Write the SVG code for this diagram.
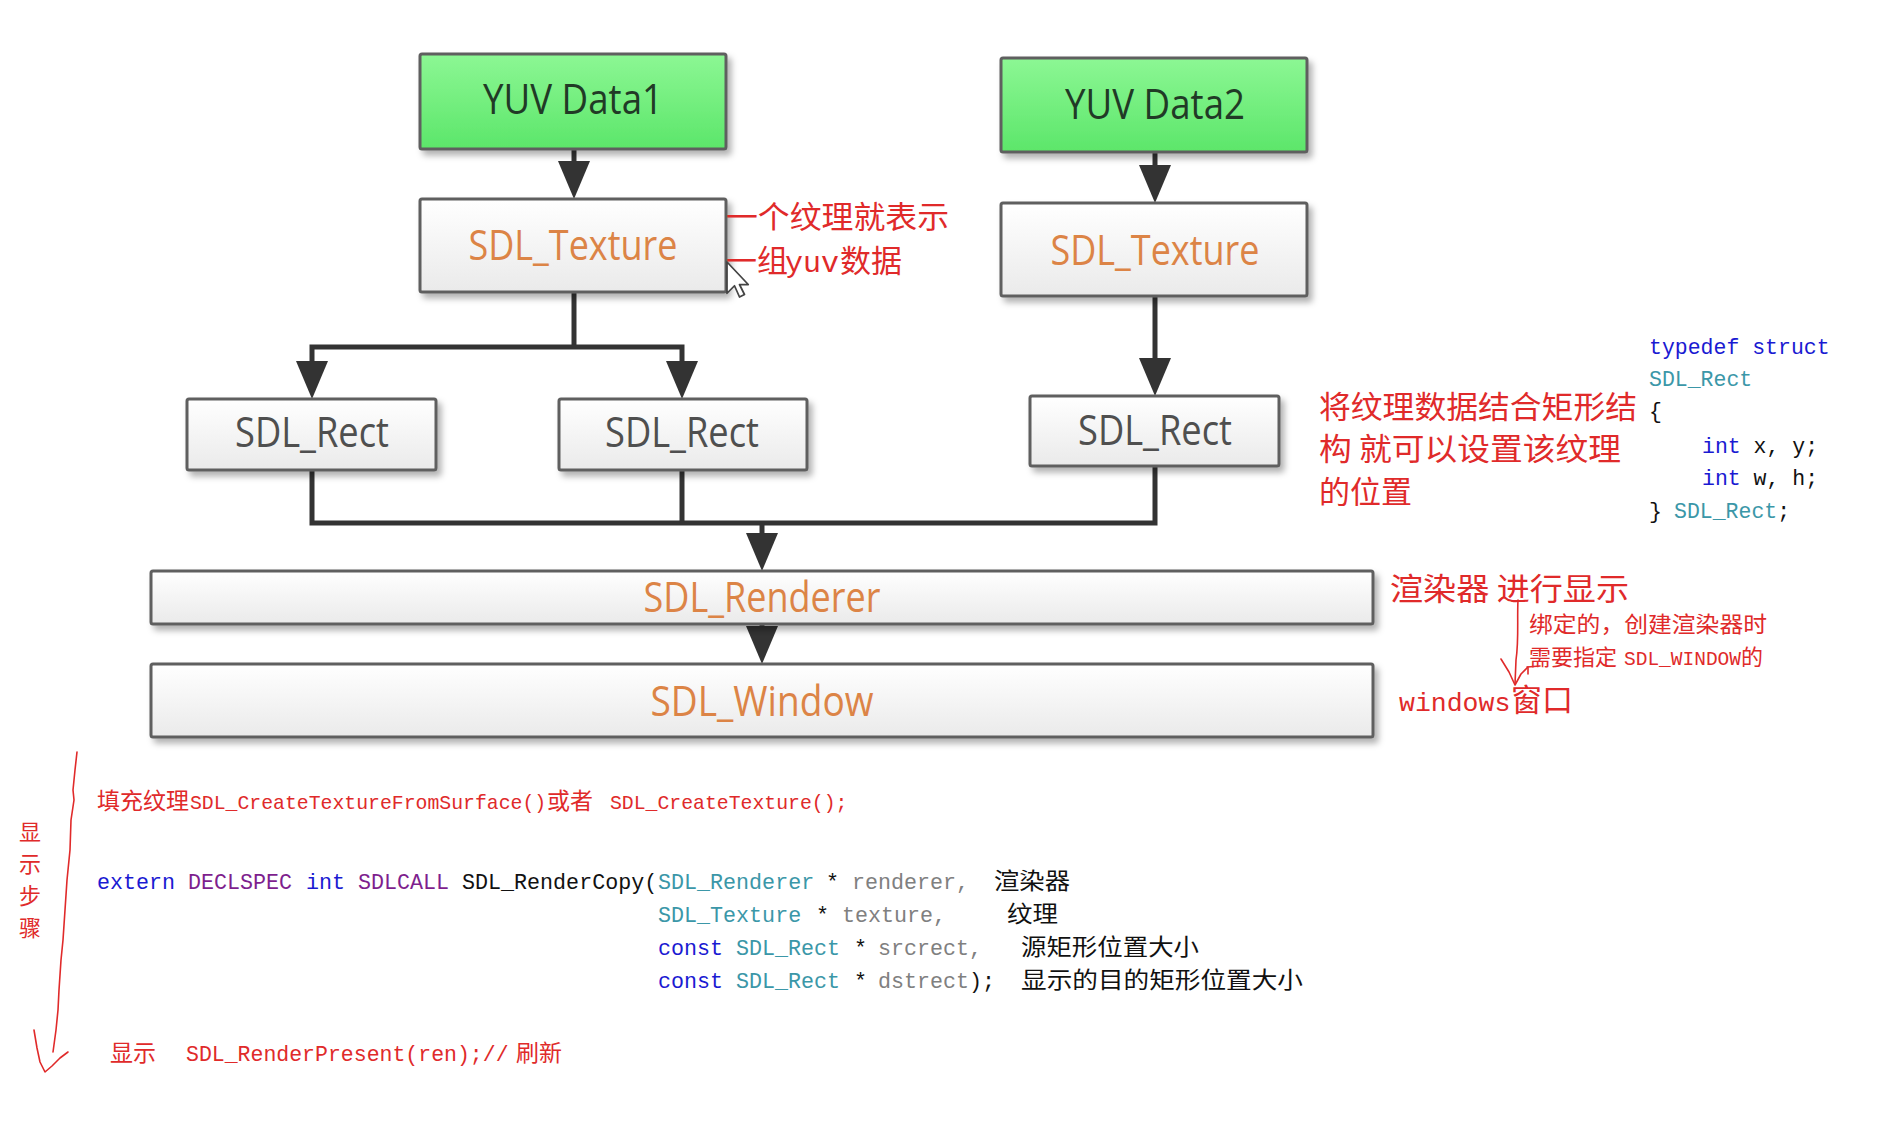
<svg xmlns="http://www.w3.org/2000/svg" width="1894" height="1127" viewBox="0 0 1894 1127">
<defs>
  <linearGradient id="gGreen" x1="0" y1="0" x2="0" y2="1">
    <stop offset="0" stop-color="#8cf794"/>
    <stop offset="1" stop-color="#5ce66a"/>
  </linearGradient>
  <linearGradient id="gWhite" x1="0" y1="0" x2="0" y2="1">
    <stop offset="0" stop-color="#ffffff"/>
    <stop offset="1" stop-color="#eaeaea"/>
  </linearGradient>
  <filter id="shadow" x="-10%" y="-20%" width="120%" height="150%">
    <feDropShadow dx="4" dy="5" stdDeviation="3" flood-color="#000" flood-opacity="0.3"/>
  </filter>
  <marker id="arrow" viewBox="0 0 38 32" refX="28" refY="16" markerWidth="38" markerHeight="32" markerUnits="userSpaceOnUse" orient="auto">
    <path d="M0,0 L38,16 L0,32 z" fill="#333333"/>
  </marker>
  <style>
    .box { stroke:#5e5e5e; stroke-width:3; filter:url(#shadow); }
    .green { fill:url(#gGreen); }
    .white { fill:url(#gWhite); }
    .lbl { font-family:"Open Sans","Noto Sans",sans-serif; font-size:42px; text-anchor:middle; }
    .dark { fill:#213a26; }
    .orange { fill:#dc8446; }
    .gray { fill:#4f4f4f; }
    .conn { fill:none; stroke:#333333; stroke-width:5; }
    .red { fill:#e02a2a; }
    .cjk { font-family:"Noto Sans CJK SC","Noto Sans",sans-serif; }
    .mono { font-family:"Liberation Mono","Noto Sans CJK SC",monospace; }
    .kw { fill:#1a1ad2; }
    .mac { fill:#7e1f8e; }
    .ty { fill:#3b97a8; }
    .par { fill:#808080; }
    .blk { fill:#111111; }
    .cmt { font-family:"Noto Sans CJK SC","Noto Sans",sans-serif; font-size:22.5px; fill:#111111; }
    .hand { fill:none; stroke:#e02a2a; stroke-width:1.6; stroke-linecap:round; stroke-linejoin:round; }
  </style>
</defs>
<rect width="1894" height="1127" fill="#ffffff"/>

<g id="connectors">
  <path class="conn" d="M574,149 V189" marker-end="url(#arrow)"/>
  <path class="conn" d="M1155,152 V193" marker-end="url(#arrow)"/>
  <path class="conn" d="M574,292 V347"/>
  <path class="conn" d="M574,347 H312 V389" marker-end="url(#arrow)"/>
  <path class="conn" d="M574,347 H682 V389" marker-end="url(#arrow)"/>
  <path class="conn" d="M1155,296 V386" marker-end="url(#arrow)"/>
  <path class="conn" d="M312,470 V523 H1155 V466"/>
  <path class="conn" d="M682,470 V523"/>
  <path class="conn" d="M762,523 V561" marker-end="url(#arrow)"/>
  <path class="conn" d="M762,624 V654" marker-end="url(#arrow)"/>
</g>

<g id="yuv1">
  <rect class="box green" x="420" y="54" width="306" height="95" rx="2"/>
  <text class="lbl dark" x="573" y="114" textLength="180" lengthAdjust="spacingAndGlyphs">YUV Data1</text>
</g>
<g id="yuv2">
  <rect class="box green" x="1001" y="58" width="306" height="94" rx="2"/>
  <text class="lbl dark" x="1155" y="119" textLength="180" lengthAdjust="spacingAndGlyphs">YUV Data2</text>
</g>
<g id="texture1">
  <rect class="box white" x="420" y="199" width="306" height="93" rx="2"/>
  <text class="lbl orange" x="573" y="260" textLength="209" lengthAdjust="spacingAndGlyphs">SDL_Texture</text>
</g>
<g id="texture2">
  <rect class="box white" x="1001" y="203" width="306" height="93" rx="2"/>
  <text class="lbl orange" x="1155" y="265" textLength="209" lengthAdjust="spacingAndGlyphs">SDL_Texture</text>
</g>
<g id="rect1">
  <rect class="box white" x="187" y="399" width="249" height="71" rx="2"/>
  <text class="lbl gray" x="312" y="447" textLength="154" lengthAdjust="spacingAndGlyphs">SDL_Rect</text>
</g>
<g id="rect2">
  <rect class="box white" x="559" y="399" width="248" height="71" rx="2"/>
  <text class="lbl gray" x="682" y="447" textLength="154" lengthAdjust="spacingAndGlyphs">SDL_Rect</text>
</g>
<g id="rect3">
  <rect class="box white" x="1030" y="396" width="249" height="70" rx="2"/>
  <text class="lbl gray" x="1155" y="445" textLength="154" lengthAdjust="spacingAndGlyphs">SDL_Rect</text>
</g>
<g id="renderer">
  <rect class="box white" x="151" y="571" width="1222" height="53" rx="2"/>
  <text class="lbl orange" x="762" y="612" textLength="237" lengthAdjust="spacingAndGlyphs">SDL_Renderer</text>
</g>
<g id="window">
  <rect class="box white" x="151" y="664" width="1222" height="73" rx="2"/>
  <text class="lbl orange" x="762" y="716" textLength="223" lengthAdjust="spacingAndGlyphs">SDL_Window</text>
</g>

<!-- mouse cursor -->
<g id="cursor" transform="translate(727,262) scale(1.25)">
  <path d="M0,0 L0,25 L6,19 L10,28 L14,26 L10,18 L17,18 z" fill="#ffffff" stroke="#444444" stroke-width="1.4" stroke-linejoin="round"/>
</g>

<!-- annotations -->
<g id="notes">
  <text class="cjk red" x="726" y="228" font-size="31" textLength="223" lengthAdjust="spacingAndGlyphs">一个纹理就表示</text>
  <text class="red" y="272" font-size="31"><tspan class="cjk" x="726">一组</tspan><tspan class="mono" x="785" font-size="30">yuv</tspan><tspan class="cjk" x="840">数据</tspan></text>

  <text class="cjk red" x="1319" y="418" font-size="31" textLength="318" lengthAdjust="spacingAndGlyphs">将纹理数据结合矩形结</text>
  <text class="cjk red" x="1319" y="460" font-size="31" textLength="302" lengthAdjust="spacingAndGlyphs">构 就可以设置该纹理</text>
  <text class="cjk red" x="1319" y="503" font-size="31">的位置</text>

  <text class="cjk red" x="1390" y="600" font-size="31" textLength="239" lengthAdjust="spacingAndGlyphs">渲染器 进行显示</text>
  <text class="cjk red" x="1529" y="632" font-size="22" textLength="238" lengthAdjust="spacingAndGlyphs">绑定的，创建渲染器时</text>
  <text class="red" y="665" font-size="22"><tspan class="cjk" x="1529">需要指定</tspan><tspan class="mono" x="1624" font-size="19.5">SDL_WINDOW</tspan><tspan class="cjk" x="1741">的</tspan></text>
  <text class="red" y="711" font-size="31"><tspan class="mono" x="1399" font-size="26.5">windows</tspan><tspan class="cjk" x="1511">窗口</tspan></text>

  <path class="hand" d="M1518,600 C1517,620 1519,640 1516,660 L1515,684"/>
  <path class="hand" d="M1501,659 L1509,672 L1515,685 L1521,674 L1528,667"/>
  <path class="hand" d="M1527,667 L1540,666 M1528,668 L1528,674"/>
</g>

<!-- struct code -->
<g id="struct" class="mono" font-size="21.5">
  <text x="1649" y="354" class="kw">typedef struct</text>
  <text x="1649" y="386" class="ty">SDL_Rect</text>
  <text x="1649" y="418" class="blk">{</text>
  <text y="453"><tspan x="1702" class="kw">int</tspan><tspan class="blk"> x, y;</tspan></text>
  <text y="485"><tspan x="1702" class="kw">int</tspan><tspan class="blk"> w, h;</tspan></text>
  <text y="518"><tspan x="1649" class="blk">}</tspan><tspan x="1674" class="ty">SDL_Rect</tspan><tspan class="blk">;</tspan></text>
</g>

<!-- steps -->
<g id="steps">
  <text class="cjk red" font-size="22" text-anchor="middle"><tspan x="30" y="840">显</tspan><tspan x="30" y="872">示</tspan><tspan x="30" y="904">步</tspan><tspan x="30" y="936">骤</tspan></text>
  <path class="hand" d="M77,752 L75,770 L73,790 L74,800 L71,820 L70,850 L67,880 L65,910 L63,940 L61,960 L59,990 L58,1010 L56,1030 L53,1052"/>
  <path class="hand" d="M34,1030 L37,1048 L40,1062 L45,1072 L52,1066 L60,1058 L68,1052"/>

  <text class="red" y="809"><tspan class="cjk" x="97" font-size="23">填充纹理</tspan><tspan class="mono" x="190" font-size="19.8">SDL_CreateTextureFromSurface()</tspan><tspan class="cjk" x="547" font-size="23">或者</tspan><tspan class="mono" x="610" font-size="19.8">SDL_CreateTexture();</tspan></text>

  <g class="mono" font-size="21.7">
    <text y="889"><tspan x="97" class="kw">extern</tspan><tspan x="188" class="mac">DECLSPEC</tspan><tspan x="306" class="kw">int</tspan><tspan x="358" class="mac">SDLCALL</tspan><tspan x="462" class="blk">SDL_RenderCopy(</tspan><tspan x="658" class="ty">SDL_Renderer</tspan><tspan x="826" class="blk">*</tspan><tspan x="852" class="par">renderer,</tspan></text>
    <text y="922"><tspan x="658" class="ty">SDL_Texture</tspan><tspan x="816" class="blk">*</tspan><tspan x="842" class="par">texture,</tspan></text>
    <text y="955"><tspan x="658" class="kw">const</tspan><tspan x="736" class="ty">SDL_Rect</tspan><tspan x="854" class="blk">*</tspan><tspan x="878" class="par">srcrect,</tspan></text>
    <text y="988"><tspan x="658" class="kw">const</tspan><tspan x="736" class="ty">SDL_Rect</tspan><tspan x="854" class="blk">*</tspan><tspan x="878" class="par">dstrect</tspan><tspan class="blk">);</tspan></text>
  </g>
  <text class="cmt" x="994" y="889" textLength="76" lengthAdjust="spacingAndGlyphs">渲染器</text>
  <text class="cmt" x="1007" y="922" textLength="51" lengthAdjust="spacingAndGlyphs">纹理</text>
  <text class="cmt" x="1021" y="955" textLength="178" lengthAdjust="spacingAndGlyphs">源矩形位置大小</text>
  <text class="cmt" x="1021" y="988" textLength="282" lengthAdjust="spacingAndGlyphs">显示的目的矩形位置大小</text>

  <text class="red" y="1061"><tspan class="cjk" x="110" font-size="23">显示</tspan><tspan class="mono" x="186" font-size="21.5">SDL_RenderPresent(ren);//</tspan><tspan class="cjk" x="516" font-size="23">刷新</tspan></text>
</g>
</svg>
